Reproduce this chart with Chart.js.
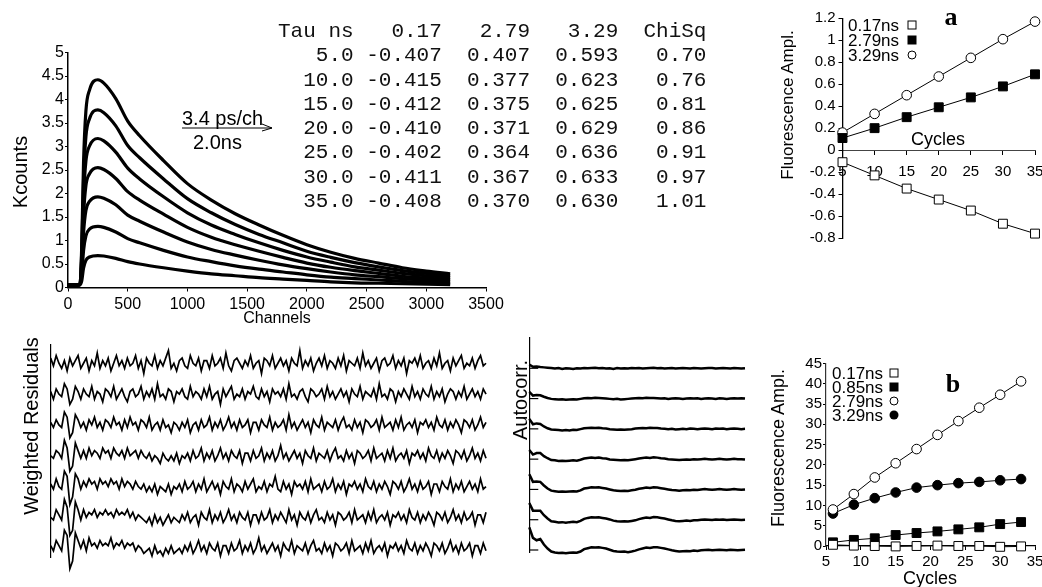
<!DOCTYPE html>
<html>
<head>
<meta charset="utf-8">
<script src="https://cdn.jsdelivr.net/npm/chart.js@4"></script>
<style>
  html, body { margin: 0; padding: 0; background: #fff; overflow: hidden; }
  #page { position: relative; width: 1042px; height: 587px; font-family: "Liberation Sans", Arial, sans-serif; color: #000; }
  canvas { position: absolute; }
  .c { position: absolute; transform: translate(-50%, -50%); line-height: 1; white-space: nowrap; }
  .v { position: absolute; transform: translate(-50%, -50%) rotate(-90deg); line-height: 1; white-space: nowrap; }
  .l { position: absolute; transform: translateY(-50%); line-height: 1; white-space: nowrap; }
  .m { position: absolute; transform: translate(-50%, -50%); box-sizing: border-box; }
  .sqo { width: 9px; height: 9px; border: 1px solid #000; background: #fff; }
  .sqf { width: 9px; height: 9px; background: #000; }
  .cio { width: 9px; height: 9px; border: 1px solid #000; border-radius: 50%; background: #fff; }
  .cif { width: 9px; height: 9px; border-radius: 50%; background: #000; }
  .panel { font-family: "Liberation Serif", "Times New Roman", serif; font-weight: bold; font-size: 26px; }
  #tbl { position: absolute; left: 278px; top: 20px; margin: 0; font-family: "Liberation Mono", "Courier New", monospace; font-size: 21px; line-height: 24.3px; color: #111; }
</style>
</head>
<body>
<div id="page">
  <canvas id="decay" width="510" height="340" style="left:0;top:0"></canvas>
  <canvas id="resid" width="500" height="252" style="left:0;top:335px"></canvas>
  <canvas id="acf" width="260" height="257" style="left:505px;top:330px"></canvas>
  <canvas id="ampA" width="300" height="250" style="left:760px;top:0"></canvas>
  <canvas id="ampB" width="300" height="247" style="left:760px;top:340px"></canvas>

  <div class="v" style="left:20px;top:172px;font-size:20px">Kcounts</div>
  <div class="c" style="left:277px;top:318px;font-size:16px">Channels</div>
  <div class="l" style="left:182px;top:118px;font-size:20px">3.4 ps/ch</div>
  <div class="l" style="left:193px;top:142px;font-size:20px">2.0ns</div>
  <svg style="position:absolute;left:178px;top:120px" width="100" height="16">
    <line x1="4" y1="8" x2="94" y2="8" stroke="#000" stroke-width="1.2"/>
    <polyline points="84,4 94,8 84,11" fill="none" stroke="#000" stroke-width="1"/>
  </svg>
  <pre id="tbl"></pre>

  <div class="v" style="left:787px;top:105px;font-size:17px">Fluorescence Ampl.</div>
  <div class="l" style="left:848px;top:25px;font-size:17px">0.17ns</div>
  <div class="l" style="left:848px;top:40px;font-size:17px">2.79ns</div>
  <div class="l" style="left:848px;top:55px;font-size:17px">3.29ns</div>
  <div class="m sqo" style="left:912px;top:25px"></div>
  <div class="m sqf" style="left:912px;top:40px"></div>
  <div class="m cio" style="left:912px;top:55px"></div>
  <div class="c panel" style="left:951px;top:17px">a</div>
  <div class="c" style="left:938px;top:139px;font-size:18px">Cycles</div>

  <div class="v" style="left:778px;top:448px;font-size:18px">Fluorescence Ampl.</div>
  <div class="l" style="left:832px;top:373px;font-size:17px">0.17ns</div>
  <div class="l" style="left:832px;top:387px;font-size:17px">0.85ns</div>
  <div class="l" style="left:832px;top:401px;font-size:17px">2.79ns</div>
  <div class="l" style="left:832px;top:415px;font-size:17px">3.29ns</div>
  <div class="m sqo" style="left:894px;top:373px"></div>
  <div class="m sqf" style="left:894px;top:387px"></div>
  <div class="m cio" style="left:894px;top:401px"></div>
  <div class="m cif" style="left:894px;top:415px"></div>
  <div class="c panel" style="left:953px;top:384px">b</div>
  <div class="c" style="left:930px;top:578px;font-size:18px">Cycles</div>

  <div class="v" style="left:31px;top:426px;font-size:20px">Weighted Residuals</div>
  <div class="v" style="left:520px;top:400px;font-size:20px">Autocorr.</div>
</div>

<script>
// decay curves, Kcounts vs channel
const channels = [0, 100, 115, 130, 150, 180, 250, 300, 400, 500, 600, 800, 1000, 1200, 1400, 1600, 1800, 2000, 2200, 2400, 2600, 2800, 3000, 3200];
const decay5  = [0.05, 0.06, 0.14, 0.41, 0.58, 0.65, 0.68, 0.67, 0.62, 0.55, 0.50, 0.42, 0.35, 0.29, 0.25, 0.21, 0.18, 0.15, 0.12, 0.10, 0.09, 0.08, 0.07, 0.06];
const decay10 = [0.05, 0.06, 0.26, 0.78, 1.10, 1.24, 1.30, 1.28, 1.18, 1.04, 0.95, 0.79, 0.65, 0.55, 0.46, 0.39, 0.33, 0.27, 0.22, 0.19, 0.16, 0.13, 0.11, 0.09];
const decay15 = [0.05, 0.06, 0.39, 1.16, 1.64, 1.83, 1.93, 1.90, 1.76, 1.54, 1.41, 1.18, 0.97, 0.81, 0.69, 0.58, 0.48, 0.40, 0.33, 0.27, 0.23, 0.19, 0.16, 0.13];
const decay20 = [0.05, 0.06, 0.51, 1.53, 2.17, 2.42, 2.55, 2.51, 2.32, 2.04, 1.86, 1.56, 1.28, 1.07, 0.91, 0.77, 0.64, 0.52, 0.43, 0.36, 0.30, 0.24, 0.20, 0.17];
const decay25 = [0.05, 0.06, 0.63, 1.90, 2.69, 3.01, 3.17, 3.12, 2.88, 2.54, 2.31, 1.93, 1.59, 1.33, 1.13, 0.95, 0.79, 0.65, 0.54, 0.44, 0.37, 0.30, 0.25, 0.21];
const decay30 = [0.05, 0.06, 0.76, 2.27, 3.21, 3.59, 3.78, 3.72, 3.44, 3.02, 2.76, 2.31, 1.89, 1.59, 1.34, 1.13, 0.95, 0.77, 0.64, 0.53, 0.44, 0.36, 0.30, 0.25];
const decay35 = [0.05, 0.06, 0.88, 2.65, 3.76, 4.20, 4.42, 4.35, 4.02, 3.54, 3.23, 2.70, 2.21, 1.86, 1.57, 1.33, 1.11, 0.91, 0.75, 0.62, 0.52, 0.42, 0.35, 0.29];

// fit table
const tableCycles = [5, 10, 15, 20, 25, 30, 35];
const tableTaus = ['0.17', '2.79', '3.29'];
const fitAmp017 = [-0.407, -0.415, -0.412, -0.410, -0.402, -0.411, -0.408];
const fitAmp279 = [0.407, 0.377, 0.375, 0.371, 0.364, 0.367, 0.370];
const fitAmp329 = [0.593, 0.623, 0.625, 0.629, 0.636, 0.633, 0.630];
const chiSq = [0.70, 0.76, 0.81, 0.86, 0.91, 0.97, 1.01];

// panel a
const cyclesA = [5, 10, 15, 20, 25, 30, 35];
const ampA017 = [-0.11, -0.23, -0.35, -0.45, -0.55, -0.67, -0.76];
const ampA279 = [0.11, 0.20, 0.30, 0.39, 0.48, 0.58, 0.69];
const ampA329 = [0.16, 0.33, 0.50, 0.67, 0.84, 1.01, 1.17];

// panel b
const cyclesB = [6, 9, 12, 15, 18, 21, 24, 27, 30, 33];
const ampB017 = [0.3, 0.1, 0.0, -0.1, 0.0, 0.1, 0.0, 0.0, -0.2, -0.1];
const ampB085 = [0.9, 1.5, 1.9, 2.7, 3.2, 3.6, 4.1, 4.6, 5.4, 5.9];
const ampB279 = [9.0, 12.8, 16.9, 20.4, 23.9, 27.4, 30.8, 34.1, 37.3, 40.6];
const ampB329 = [8.0, 10.2, 11.8, 13.2, 14.4, 15.0, 15.5, 15.8, 16.2, 16.5];

// weighted residuals, one trace per cycle count (top = 5 cycles)
const res5 = [
  2,-1,3,0,-2,1,-3,2,-1,1,3,-2,0,2,-3,1,-1,4,-2,1,
  -1,2,-3,0,3,-1,1,-2,2,-1,0,3,-2,1,-4,2,0,-1,3,-2,
  1,-1,2,5,-2,0,-3,1,2,-1,-2,3,0,-1,2,-3,1,1,-2,3,
  -1,0,2,-2,4,-1,-3,1,2,0,-2,1,-1,3,-2,0,1,-4,2,1,
  -1,3,-2,0,2,-1,1,-3,2,0,-1,5,-2,1,-1,2,-3,0,2,-1,
  3,-2,1,0,-2,2,-1,3,-3,1,0,-1,2,-2,4,-1,1,-2,0,2,
  -3,1,2,-1,0,3,-2,1,-1,2,-4,1,0,2,-1,3,-2,0,1,-2,
  2,-1,4,-2,0,1,-3,2,-1,1,3,-2,0,-1,2,-2,1,3,-1,0];
const res10 = [
  1,-2,2,0,-1,4,2,-4,-2,3,1,-2,2,0,-1,3,-2,1,0,-3,
  2,1,-1,3,-2,0,2,-1,-3,1,2,-1,0,3,-2,1,-1,2,-2,4,
  -1,0,-2,2,1,-3,1,0,2,-1,-2,3,-1,1,0,-2,2,-1,3,-2,
  0,1,-4,2,-1,1,3,-2,0,-1,2,-2,1,0,3,-1,-2,2,-1,1,
  -3,2,0,1,-1,2,-2,4,-1,0,-2,1,2,-1,-3,2,1,-1,0,2,
  -2,3,-1,1,-2,0,2,-1,1,-3,2,0,-1,3,-2,1,0,-1,2,-2,
  4,-1,0,-2,2,1,-3,1,-1,2,0,-2,3,-1,1,-2,2,0,-1,3,
  -2,1,-1,2,-3,0,2,1,-2,1,-1,3,-2,0,2,-1,1,-2,2,0];
const res15 = [
  1,-1,2,0,-1,5,3,-5,-3,4,2,-1,1,-2,2,0,3,-1,1,-2,
  2,1,-1,3,0,1,-2,2,-1,3,0,1,-2,2,1,-1,3,-2,0,1,
  -2,2,-1,0,-3,1,0,-2,1,-1,2,-3,0,1,-2,2,-1,0,3,-2,
  1,-1,2,-2,0,3,-1,1,-2,2,-1,0,2,-3,1,1,-2,2,0,-1,
  3,-2,1,-1,0,2,-2,4,-1,1,-2,0,2,-1,1,-3,2,0,-1,3,
  -2,1,0,-1,2,-2,1,3,-1,0,-2,2,-1,1,-3,2,1,-1,0,2,
  -2,3,-1,0,1,-2,2,-1,3,-2,0,1,-1,2,-3,1,0,2,-1,1,
  -2,3,0,-1,2,-2,1,-1,2,0,-3,2,1,-1,2,-2,0,3,-1,1];
const res20 = [
  0,-1,2,1,-1,6,3,-6,-4,5,2,-1,2,-1,3,0,2,1,-1,3,
  1,2,-1,3,1,0,2,-1,3,0,1,2,-1,2,0,-1,1,-2,0,-1,
  -3,1,-1,-2,0,-2,1,-3,0,-1,1,-2,2,-1,0,3,-2,1,-1,2,
  -2,0,3,-1,1,-2,2,0,-1,2,-3,1,1,-2,2,-1,0,3,-2,1,
  -1,2,-2,0,4,-1,1,-2,0,2,-1,1,-3,2,0,-1,3,-2,1,0,
  -1,2,-2,1,3,-1,0,-2,2,-1,1,-3,2,1,-1,0,2,-2,3,-1,
  0,1,-2,2,-1,3,-2,0,1,-1,2,-3,1,0,2,-1,1,-2,3,0,
  -1,2,-2,1,-1,2,0,-3,2,1,-1,2,-2,0,3,-1,1,-2,2,-1];
const res25 = [
  1,-1,3,0,-1,6,4,-7,-4,5,3,-1,2,0,3,1,2,-1,3,1,
  2,0,3,1,2,-1,3,0,2,1,-1,2,0,-1,1,-2,0,-2,1,-3,
  0,-1,-2,1,-3,0,-1,1,-2,2,-1,0,2,-2,1,-1,3,-2,0,2,
  -1,1,-3,2,0,-1,3,-2,1,0,-2,2,-1,1,3,-2,0,-1,2,-2,
  1,0,4,-1,-2,2,-1,1,-3,2,0,1,-1,2,-2,3,-1,0,1,-2,
  2,-1,0,3,-2,1,-1,2,-3,1,0,2,-1,1,-2,3,0,-1,2,-2,
  1,-1,2,0,-3,2,1,-1,2,-2,0,3,-1,1,-2,2,-1,0,2,-3,
  1,1,-2,2,0,-1,3,-2,1,-1,2,-2,0,2,-1,1,-2,3,-1,0];
const res30 = [
  0,-1,3,1,-1,7,4,-7,-5,6,3,-1,3,0,2,1,3,0,2,1,
  3,1,2,0,3,1,2,1,3,0,2,-1,1,0,-1,-2,0,-3,1,-2,
  0,-3,-1,1,-2,0,-1,-2,1,-1,2,-2,0,1,-3,2,0,-1,3,-2,
  1,-1,2,-2,0,3,-1,1,-2,2,0,-1,2,-3,1,1,-2,2,-1,0,
  3,-2,1,-1,2,0,-2,3,-1,1,-3,2,0,-1,2,-2,1,3,-1,0,
  -2,2,-1,1,-3,2,1,-1,0,2,-2,3,-1,0,1,-2,2,-1,3,-2,
  0,1,-1,2,-3,1,0,2,-1,1,-2,3,0,-1,2,-2,1,-1,2,0,
  -3,2,1,-1,2,-2,0,3,-1,1,-2,2,-1,0,2,-3,1,1,-2,2];
const res35 = [
  1,-1,3,1,-1,7,5,-8,-5,6,3,0,3,-1,4,1,2,0,3,1,
  2,1,4,0,2,1,3,0,2,1,2,-1,1,0,-2,-1,0,-3,1,-2,
  -1,-3,0,-2,1,-2,-1,0,-2,1,-1,2,-2,0,3,-1,1,-2,2,0,
  -1,2,-3,1,1,-2,2,-1,0,3,-2,1,-1,2,-2,0,4,-1,1,-2,
  0,2,-1,1,-3,2,0,-1,3,-2,1,0,-1,2,-2,1,3,-1,0,-2,
  2,-1,1,-3,2,1,-1,0,2,-2,3,-1,0,1,-2,2,-1,3,-2,0,
  1,-1,2,-3,1,0,2,-1,1,-2,3,0,-1,2,-2,1,-1,2,0,-3,
  2,1,-1,2,-2,0,3,-1,1,-2,2,-1,0,2,-3,1,1,-2,2,-1];

// autocorrelation of the residuals
const acf5  = [1.2,0.5,0.6,0.4,0.3,0.2,0.1,-0.1,0.1,-0.2,0.0,-0.1,-0.2,0.0,-0.1,0.1,0.0,0.1,0.2,0.0,0.1,-0.1,0.0,-0.2,0.1,-0.1,0.0,-0.1,0.1,0.0,0.1,-0.1,0.0,0.1,0.2,0.0,0.1,-0.1,0.0,0.1,-0.1,0.0,0.1,0.0,-0.1,0.1,0.0,-0.1,0.0,0.1,0.1,-0.1,0.0,0.1,0.0,-0.1,0.1,0.0,-0.1,0.0];
const acf10 = [2.2,1.0,1.2,1.1,0.6,0.2,-0.1,-0.2,-0.3,-0.2,-0.4,-0.3,-0.2,-0.3,-0.1,0.1,0.2,0.1,0.3,0.2,0.1,0.0,-0.1,-0.2,-0.1,-0.3,-0.2,-0.1,0.0,0.1,0.2,0.1,0.3,0.2,0.2,0.1,0.0,0.1,-0.1,0.0,0.1,0.0,-0.1,0.0,0.1,0.0,0.1,-0.1,0.0,0.1,0.0,-0.1,0.1,0.0,-0.1,0.0,0.1,0.0,0.1,0.0];
const acf15 = [3.3,1.5,1.8,1.6,0.8,0.2,-0.2,-0.3,-0.4,-0.5,-0.4,-0.5,-0.3,-0.4,-0.1,0.2,0.3,0.4,0.3,0.4,0.2,0.1,-0.1,-0.2,-0.3,-0.2,-0.3,-0.2,-0.1,0.1,0.2,0.3,0.2,0.4,0.3,0.3,0.1,0.0,-0.1,0.0,-0.2,-0.1,0.0,-0.1,0.1,0.0,-0.1,0.0,0.1,0.0,-0.1,0.1,0.0,0.1,-0.1,0.0,0.1,0.0,-0.1,0.0];
const acf20 = [3.0,1.5,2.0,2.0,1.0,0.3,-0.3,-0.4,-0.6,-0.5,-0.6,-0.5,-0.4,-0.5,-0.2,0.2,0.4,0.5,0.4,0.5,0.3,0.2,-0.1,-0.2,-0.3,-0.4,-0.3,-0.4,-0.2,0.0,0.2,0.4,0.5,0.4,0.6,0.5,0.3,0.2,0.0,-0.1,-0.2,-0.3,-0.2,-0.1,-0.2,0.0,-0.1,0.0,0.1,0.0,-0.1,0.0,0.1,0.0,-0.1,0.0,0.1,0.0,0.0,-0.1];
const acf25 = [5.0,2.5,2.6,2.5,1.3,0.3,-0.4,-0.6,-0.8,-0.7,-0.8,-0.7,-0.6,-0.7,-0.3,0.3,0.5,0.7,0.6,0.7,0.5,0.3,0.0,-0.3,-0.4,-0.5,-0.4,-0.5,-0.3,-0.1,0.2,0.4,0.6,0.5,0.7,0.6,0.4,0.2,0.0,-0.2,-0.3,-0.4,-0.3,-0.2,-0.3,-0.1,-0.2,0.0,0.1,0.0,-0.1,0.0,0.1,0.0,-0.1,0.0,0.1,0.0,-0.1,0.0];
const acf30 = [5.5,3.0,3.0,3.0,1.5,0.4,-0.5,-0.7,-0.9,-0.8,-1.0,-0.8,-0.7,-0.8,-0.4,0.3,0.6,0.8,0.7,0.8,0.6,0.4,0.1,-0.3,-0.5,-0.6,-0.5,-0.6,-0.4,-0.2,0.2,0.5,0.7,0.6,0.9,0.8,0.6,0.4,0.1,-0.2,-0.4,-0.5,-0.4,-0.3,-0.4,-0.2,-0.2,0.0,0.1,0.0,-0.1,0.1,0.0,0.1,-0.1,0.0,0.1,0.0,-0.1,0.0];
const acf35 = [7.5,4.0,3.2,3.6,1.8,0.5,-0.5,-0.8,-1.0,-0.9,-1.1,-0.9,-0.8,-0.9,-0.5,0.3,0.6,0.9,0.8,0.9,0.7,0.5,0.1,-0.3,-0.5,-0.6,-0.5,-0.7,-0.5,-0.2,0.2,0.5,0.8,0.7,0.9,0.9,0.7,0.5,0.2,-0.1,-0.3,-0.5,-0.4,-0.3,-0.4,-0.2,-0.3,-0.1,0.0,0.1,-0.1,0.0,0.1,0.0,-0.1,0.1,0.0,-0.1,0.0,0.1];

// vertical stacking of the residual / autocorr traces
const resOffsets = [0, -12, -24, -36, -48, -60, -72];
const acfOffsets = [0, -10, -20, -30, -40, -50, -60];

// ---- table text ----
const tblLines = ['Tau ns   ' + tableTaus.join('   ') + '  ChiSq'];
tableCycles.forEach((c, i) => {
  tblLines.push(
    c.toFixed(1).padStart(6) + ' ' +
    fitAmp017[i].toFixed(3) + '  ' +
    fitAmp279[i].toFixed(3) + '  ' +
    fitAmp329[i].toFixed(3) + '   ' +
    chiSq[i].toFixed(2)
  );
});
document.getElementById('tbl').textContent = tblLines.join('\n');

// ---- charts ----
Chart.defaults.font.family = '"Liberation Sans", Arial, sans-serif';
Chart.defaults.color = '#000';
Chart.defaults.animation = false;

// fixed axis box sizes so the plot areas land where the figure has them
const boxSize = (size) => (scale) => {
  if (scale.isHorizontal()) scale.height = size;
  else scale.width = size;
};
// plain numbers: 1000 not 1,000, 1 not 1.0
const plain = (v) => String(Math.round(v * 100) / 100);

const basePlugins = { legend: { display: false }, tooltip: { enabled: false } };

function pts(xs, ys) {
  return ys.map((y, i) => ({ x: xs[i], y }));
}

function stacked(arr, off) {
  return arr.map((v, i) => ({ x: i / (arr.length - 1), y: v + off }));
}

// decay curves
const decayCurves = [decay5, decay10, decay15, decay20, decay25, decay30, decay35];
new Chart(document.getElementById('decay'), {
  type: 'line',
  data: {
    datasets: decayCurves.map(d => ({
      data: pts(channels, d),
      borderColor: '#000',
      borderWidth: 3.2,
      pointRadius: 0,
      cubicInterpolationMode: 'monotone',
    })),
  },
  options: {
    responsive: false,
    events: [],
    layout: { padding: { left: 8, top: 52.5, right: 24, bottom: 12.5 } },
    plugins: basePlugins,
    scales: {
      x: {
        type: 'linear', min: 0, max: 3500, afterFit: boxSize(40),
        ticks: { stepSize: 500, font: { size: 16 }, padding: 3, maxRotation: 0, autoSkip: false, callback: plain },
        grid: { drawOnChartArea: false, tickLength: 4, color: '#000' },
        border: { color: '#000', width: 1.5 },
      },
      y: {
        min: 0, max: 5, afterFit: boxSize(60),
        ticks: { stepSize: 0.5, font: { size: 16 }, padding: 1, autoSkip: false, callback: plain },
        grid: { drawOnChartArea: false, tickLength: 3, color: '#000' },
        border: { color: '#000', width: 1.5 },
      },
    },
  },
});

// weighted residuals
const resTraces = [res5, res10, res15, res20, res25, res30, res35];
new Chart(document.getElementById('resid'), {
  type: 'line',
  data: {
    datasets: resTraces.map((r, k) => ({
      data: stacked(r, resOffsets[k]),
      borderColor: '#000',
      borderWidth: 1.7,
      pointRadius: 0,
      clip: false,
    })),
  },
  options: {
    responsive: false,
    events: [],
    layout: { padding: { left: 50.7, top: 10, right: 14, bottom: 30 } },
    plugins: basePlugins,
    scales: {
      x: { type: 'linear', min: 0, max: 1, display: false },
      y: {
        min: -75.4, max: 7.1, afterFit: boxSize(0),
        ticks: { display: false },
        grid: { display: false },
        border: { display: true, color: '#000', width: 1.2 },
      },
    },
  },
});

// autocorrelation
const acfTraces = [acf5, acf10, acf15, acf20, acf25, acf30, acf35];
const baselineTicks = {
  id: 'baselineTicks',
  afterDatasetsDraw(chart) {
    const { ctx, chartArea, scales } = chart;
    ctx.save();
    ctx.strokeStyle = '#000';
    ctx.lineWidth = 1.2;
    acfOffsets.forEach(off => {
      const py = scales.y.getPixelForValue(off);
      ctx.beginPath();
      ctx.moveTo(chartArea.left, py);
      ctx.lineTo(chartArea.left + 9, py);
      ctx.stroke();
    });
    ctx.restore();
  },
};
new Chart(document.getElementById('acf'), {
  type: 'line',
  data: {
    datasets: acfTraces.map((a, k) => ({
      data: stacked(a, acfOffsets[k]),
      borderColor: '#000',
      borderWidth: 2.5,
      pointRadius: 0,
      clip: false,
    })),
  },
  options: {
    responsive: false,
    events: [],
    layout: { padding: { left: 24.3, top: 8, right: 20, bottom: 35 } },
    plugins: basePlugins,
    scales: {
      x: { type: 'linear', min: 0, max: 1, display: false },
      y: {
        min: -60.66, max: 10, afterFit: boxSize(0),
        ticks: { display: false },
        grid: { display: false },
        border: { display: true, color: '#000', width: 1.2 },
      },
    },
  },
  plugins: [baselineTicks],
});

function ampSet(xs, ys, style, filled, r) {
  return {
    data: pts(xs, ys),
    borderColor: '#000',
    borderWidth: 1,
    pointStyle: style,
    pointRadius: r,
    pointBorderWidth: 1,
    pointBorderColor: '#000',
    pointBackgroundColor: filled ? '#000' : '#fff',
    clip: false,
  };
}

// panel a
new Chart(document.getElementById('ampA'), {
  type: 'line',
  data: {
    datasets: [
      ampSet(cyclesA, ampA017, 'rect', false, 6.3),
      ampSet(cyclesA, ampA279, 'rect', true, 6.3),
      ampSet(cyclesA, ampA329, 'circle', false, 4.8),
    ],
  },
  options: {
    responsive: false,
    events: [],
    layout: { padding: { left: 12.5, top: 18.3, right: 25, bottom: 10.7 } },
    plugins: basePlugins,
    scales: {
      x: {
        type: 'linear', min: 5, max: 35, position: { y: 0 }, afterFit: boxSize(0),
        ticks: { stepSize: 5, font: { size: 15 }, padding: 9, maxRotation: 0, autoSkip: false, callback: plain },
        grid: { drawOnChartArea: false, tickLength: 4, color: '#000' },
        border: { color: '#444', width: 1, dash: [4, 3] },
      },
      y: {
        min: -0.8, max: 1.2, afterFit: boxSize(70),
        ticks: { stepSize: 0.2, font: { size: 15 }, padding: 3, autoSkip: false, callback: plain },
        grid: { drawOnChartArea: false, tickLength: 4, color: '#000' },
        border: { color: '#000', width: 1.3 },
      },
    },
  },
});

// panel b
new Chart(document.getElementById('ampB'), {
  type: 'line',
  data: {
    datasets: [
      ampSet(cyclesB, ampB017, 'rect', false, 6.3),
      ampSet(cyclesB, ampB085, 'rect', true, 6.3),
      ampSet(cyclesB, ampB279, 'circle', false, 4.8),
      ampSet(cyclesB, ampB329, 'circle', true, 4.8),
    ],
  },
  options: {
    responsive: false,
    events: [],
    layout: { padding: { left: 11, top: 23.5, right: 25, bottom: 11 } },
    plugins: basePlugins,
    scales: {
      x: {
        type: 'linear', min: 5, max: 35, afterFit: boxSize(30),
        ticks: { stepSize: 5, font: { size: 15 }, padding: 3, maxRotation: 0, autoSkip: false, callback: plain },
        grid: { drawOnChartArea: false, tickLength: 4, color: '#000' },
        border: { color: '#000', width: 1.2 },
      },
      y: {
        min: 0, max: 45, afterFit: boxSize(55),
        ticks: { stepSize: 5, font: { size: 15 }, padding: 1, autoSkip: false, callback: plain },
        grid: { drawOnChartArea: false, tickLength: 3, color: '#000' },
        border: { color: '#333', width: 1.2, dash: [2, 2] },
      },
    },
  },
});
</script>
</body>
</html>
